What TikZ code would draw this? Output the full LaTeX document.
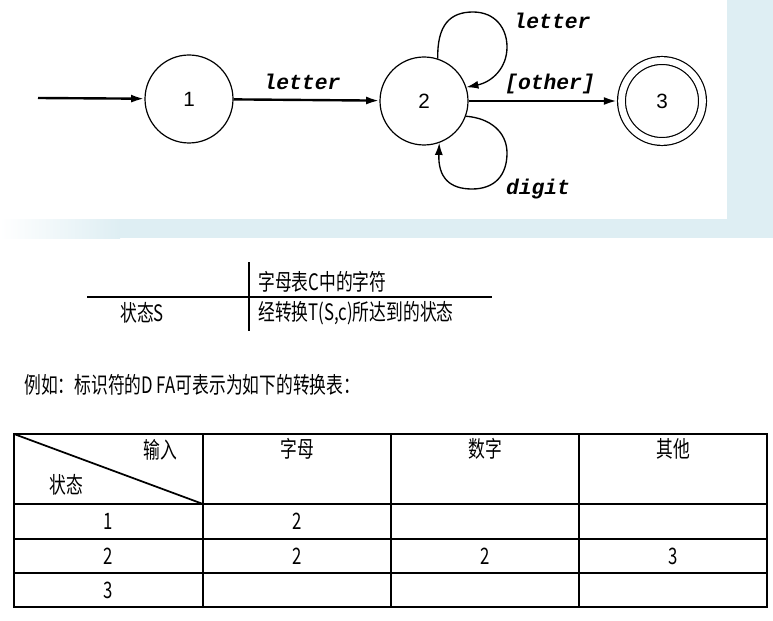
\documentclass[tikz,border=0pt]{standalone}
\usepackage{fontspec}
\setmainfont{Liberation Sans}
\newfontfamily\cjk[FakeStretch=0.74]{Noto Sans CJK SC}
\newfontfamily\ttlabel{Liberation Mono}
\usetikzlibrary{arrows.meta}
\definecolor{slidebg}{RGB}{222,238,243}

\tikzset{
  state/.style={draw, circle, line width=0.9pt, minimum size=66pt, inner sep=0pt, font=\fontsize{15.5}{16}\selectfont},
  accept/.style={state, minimum size=60.75pt, double, double distance=5pt, outer sep=3.3pt},
  trans/.style={-{Latex[length=10pt,width=6pt]}, line width=1.8pt},
  loopline/.style={-{Latex[length=9pt,width=6pt]}, line width=1pt},
  lbl/.style={font=\ttlabel\bfseries\itshape\fontsize{16}{16}\selectfont, inner sep=0pt, anchor=base},
  cell/.style={font=\cjk\fontsize{17}{17}\selectfont, inner sep=0pt},
  grid/.style={line width=0.8pt}
}

\begin{document}
\begin{tikzpicture}[x=0.75pt,y=0.75pt,yscale=-1,xscale=1]
\useasboundingbox (0,0) rectangle (773,620);
% slide background
\fill[slidebg] (727,0) rectangle (773,238);
\shade[left color=white, right color=slidebg] (0,219) rectangle (120,238);
\fill[slidebg] (120,219) rectangle (773,238);
\fill[white] (0,0) rectangle (727,219);

% automaton
\node[state] (n1) at (189,99) {1};
\node[state] (n2) at (424,101) {2};
\node[accept] (n3) at (662,101) {3};
\coordinate (start) at (38,98);

\draw[trans] (start) -- (n1);
\draw[trans] (n1) -- (n2);
\draw[trans] (n2) -- (n3);
\draw[loopline] (n2.72) .. controls (437,25) and (450,12) .. (473,12)
  .. controls (495,12) and (507,28) .. (507,47)
  .. controls (507,68) and (492,82) .. (n2.18);
\draw[loopline] (n2.-20) .. controls (490,118) and (507,132) .. (507,153)
  .. controls (507,175) and (495,189) .. (472,189)
  .. controls (450,189) and (438,178) .. (n2.-70);

\node[lbl] (l12) at (302,90) {letter};
\node[lbl] (l22a) at (552,29) {letter};
\node[lbl] (l23) at (550,90) {[other]};
\node[lbl] (l22b) at (538,195) {digit};

% definition of the table
\draw[grid] (249,262) -- (249,331);
\draw[grid] (87,297) -- (492,297);
\node[cell, anchor=west] (alpha) at (258,282) {字母表C中的字符};
\node[cell] (stS) at (142,313) {状态S};
\node[cell, anchor=west] (move) at (258,313) {经转换T(S,c)所达到的状态};

\node[cell, anchor=west] (note) at (24,385) {例如：标识符的D FA可表示为如下的转换表：};

% transition table
\draw[grid] (14,434) rectangle (767,607);
\foreach \x in {203,391,579}
  \draw[grid] (\x,434) -- (\x,607);
\foreach \y in {504,539,573}
  \draw[grid] (14,\y) -- (767,\y);
\draw[line width=1.3pt] (14,434) -- (203,504);

\node[cell] (hin) at (160,450) {输入};
\node[cell] (hst) at (66,485) {状态};
\node[cell] (hlet) at (297,449) {字母};
\node[cell] (hdig) at (485,449) {数字};
\node[cell] (hoth) at (673,449) {其他};
\foreach \r/\y in {1/521,2/556,3/590}
  \node[cell] (s\r) at (108,\y) {\r};
\node[cell] (v1l) at (297,521) {2};
\node[cell] (v2l) at (297,556) {2};
\node[cell] (v2d) at (485,556) {2};
\node[cell] (v2o) at (673,556) {3};
\end{tikzpicture}
\end{document}
